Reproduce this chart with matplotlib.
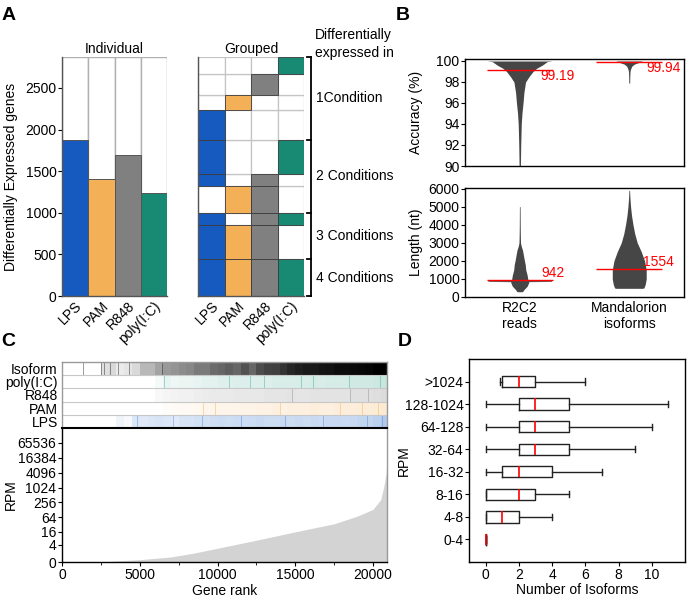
import numpy as np
import matplotlib
matplotlib.use('Agg')
import matplotlib.pyplot as plt
from matplotlib.colors import to_rgb
from matplotlib.ticker import MultipleLocator

plt.rcParams['font.family'] = ['Liberation Sans', 'DejaVu Sans']
plt.rcParams['font.size'] = 10
plt.rcParams['axes.linewidth'] = 1.0

# ---------------- Panel A data ----------------
conditions = ['LPS', 'PAM', 'R848', 'poly(I:C)']
cond_colors = ['#1659bf', '#f4b056', '#808080', '#188a73']
individual_counts = [1870, 1410, 1690, 1235]
# grouped rows (bottom -> top): membership in LPS, PAM, R848, poly(I:C)
group_members = [
    [1, 1, 1, 1],
    [1, 1, 1, 0],
    [1, 0, 1, 1],
    [0, 1, 1, 0],
    [1, 0, 1, 0],
    [1, 0, 0, 1],
    [1, 0, 0, 0],
    [0, 1, 0, 0],
    [0, 0, 1, 0],
    [0, 0, 0, 1],
]
group_counts = [440, 412, 140, 332, 140, 416, 352, 180, 260, 200]
group_names = {1: '1Condition', 2: '2 Conditions', 3: '3 Conditions', 4: '4 Conditions'}
a_yticks = [0, 500, 1000, 1500, 2000, 2500]

# ---------------- Panel B data ----------------
b_categories = ['R2C2\nreads', 'Mandalorion\nisoforms']
acc_medians = [99.19, 99.94]
len_medians = [942, 1554]
acc_med_labels = ['99.19', '99.94']
len_med_labels = ['942', '1554']
# swarm outline: value level and half-width (category units)
r2c2_acc_levels = [90, 92, 94, 95, 96, 97, 98, 98.5, 99.0, 99.3, 99.6, 99.94, 100]
r2c2_acc_width = [0.006, 0.009, 0.014, 0.020, 0.030, 0.038, 0.053, 0.084, 0.121, 0.153, 0.205, 0.251, 0.297]
mand_acc_levels = [97.9, 98.5, 99.0, 99.2, 99.5, 99.7, 99.87, 100]
mand_acc_width = [0.004, 0.005, 0.007, 0.011, 0.023, 0.046, 0.091, 0.121]
r2c2_len_levels = [290, 300, 400, 600, 800, 850, 860, 900, 910, 1000, 1200, 1500, 1800, 2000,
                   2300, 2600, 2800, 3000, 3500, 4000, 5000]
r2c2_len_width = [0.005, 0.027, 0.037, 0.068, 0.082, 0.082, 0.29, 0.29, 0.082, 0.073, 0.068, 0.055,
                  0.050, 0.043, 0.034, 0.025, 0.014, 0.007, 0.005, 0.004, 0.003]
mand_len_levels = [480, 500, 700, 1000, 1500, 2000, 2500, 3000, 3500, 4000, 4500, 5000, 5500, 5900]
mand_len_width = [0.119, 0.134, 0.146, 0.155, 0.155, 0.140, 0.110, 0.073, 0.050, 0.034, 0.021,
                  0.012, 0.006, 0.003]

# ---------------- Panel C data ----------------
gene_rank = [0, 2500, 5000, 7000, 8500, 10000, 12500, 15000, 17500, 19000, 20000, 20500, 20700,
             20850, 20900]
gene_rpm = [0, 0.015, 0.244, 0.6, 1.3, 2.6, 6.6, 15.6, 34, 71, 133, 337, 1180, 4100, 14500]
c_yticks = [0, 4, 16, 64, 256, 1024, 4096, 16384, 65536]
strip_names = ['LPS', 'PAM', 'R848', 'poly(I:C)', 'Isoform']
strip_colors = ['#3a78d0', '#f4a640', '#808080', '#2aa080', '#000000']
strip_bin = 500  # rank bin width of the density arrays below
lps_density = [0, 0, 0, 0, 0, 0, 0, 0.08, 0.04, 0.18, 0.16, 0.18, 0.2, 0.18, 0.16, 0.2, 0.2, 0.22,
               0.22, 0.24, 0.26, 0.24, 0.26, 0.25, 0.26, 0.28, 0.26, 0.26, 0.28, 0.26, 0.28, 0.26,
               0.28, 0.26, 0.28, 0.28, 0.27, 0.28, 0.30, 0.30, 0.34, 0.40]
pam_density = [0, 0, 0, 0, 0, 0, 0, 0, 0, 0, 0, 0, 0, 0.03, 0.04, 0.06, 0.06, 0.08, 0.09, 0.11, 0.11,
               0.11, 0.11, 0.13, 0.13, 0.14, 0.14, 0.16, 0.14, 0.16, 0.16, 0.16, 0.18, 0.16, 0.16,
               0.18, 0.18, 0.18, 0.2, 0.2, 0.22, 0.24]
r848_density = [0, 0, 0, 0, 0, 0, 0, 0, 0, 0, 0, 0, 0.05, 0.08, 0.09, 0.11, 0.11, 0.13, 0.15, 0.16,
                0.16, 0.16, 0.18, 0.18, 0.18, 0.18, 0.2, 0.2, 0.2, 0.22, 0.2, 0.2, 0.22, 0.22,
                0.22, 0.22, 0.22, 0.24, 0.24, 0.24, 0.26, 0.28]
poly_density = [0, 0, 0, 0, 0, 0, 0, 0, 0, 0, 0, 0, 0.05, 0.11, 0.08, 0.09, 0.09, 0.11, 0.13, 0.13,
                0.15, 0.15, 0.16, 0.16, 0.16, 0.16, 0.16, 0.18, 0.18, 0.18, 0.18, 0.18, 0.2, 0.18,
                0.2, 0.2, 0.2, 0.22, 0.22, 0.22, 0.24, 0.26]
iso_density = [0, 0, 0, 0, 0, 0.12, 0.15, 0.08, 0.10, 0.15, 0.28, 0.28, 0.36, 0.4, 0.42, 0.45, 0.47,
               0.52, 0.52, 0.58, 0.6, 0.63, 0.6, 0.68, 0.6, 0.7, 0.74, 0.75, 0.8, 0.85, 0.88,
               0.90, 0.90, 0.92, 0.93, 0.95, 0.95, 0.96, 0.97, 0.98, 1.0, 1.0]
lps_lines = [4800, 7140, 9000, 11500, 14340, 16780, 19600, 20550]
pam_lines = [9090, 9840, 14020, 17880, 19270, 20300]
r848_lines = [14770, 18520, 19650]
poly_lines = [6580, 10740, 12090, 13010, 15370, 16160, 18450, 20450]
iso_lines = [1370, 2490, 2700, 3100, 3620, 4330, 6410]

# ---------------- Panel D data ----------------
d_bins = ['0-4', '4-8', '8-16', '16-32', '32-64', '64-128', '128-1024', '>1024']
d_whislo = [0, 0, 0, 0, 0, 0, 0, 0.85]
d_q1 = [0, 0, 0, 1, 2, 2, 2, 1]
d_med = [0, 1, 2, 2, 3, 3, 3, 2]
d_q3 = [0, 2, 3, 4, 5, 5, 5, 3]
d_whishi = [0, 4, 5, 7, 9, 10, 11, 6]

# ---------------- Figure ----------------
W, H = 690, 600
fig = plt.figure(figsize=(W / 100, H / 100), dpi=100)


def add_ax(x0, y0, x1, y1):
    return fig.add_axes([x0 / W, 1 - y1 / H, (x1 - x0) / W, (y1 - y0) / H])


def letter(x, y, s):
    fig.text(x / W, 1 - y / H, s, fontsize=14, fontweight='bold', va='center', ha='left')


FS = 10

# ===== Panel A: Individual =====
a_top = 2872
axI = add_ax(62, 57, 167, 296)
xpos = np.arange(len(conditions))
axI.bar(xpos, [a_top] * 4, width=1, color='white', edgecolor='#b0b0b0', lw=1.0)
axI.bar(xpos, individual_counts, width=1, color=cond_colors, edgecolor='#555555', lw=0.7)
axI.set_xlim(-0.5, 3.5)
axI.set_ylim(0, a_top)
for s in ['top', 'right']:
    axI.spines[s].set_visible(False)
axI.spines['left'].set_color('#555555')
axI.spines['bottom'].set_color('#555555')
axI.set_yticks(a_yticks)
axI.tick_params(axis='y', length=3, pad=1, labelsize=FS)
axI.set_xticks(xpos)
axI.set_xticklabels(conditions, rotation=45, ha='right', rotation_mode='anchor', fontsize=FS)
axI.tick_params(axis='x', length=0, pad=2)
axI.set_title('Individual', fontsize=FS, pad=3)
axI.set_ylabel('Differentially Expressed genes', fontsize=FS)
axI.yaxis.set_label_coords(-0.42, 0.5)

# ===== Panel A: Grouped =====
axG = add_ax(198, 57, 304, 296)
bottom = 0
for members, n in zip(group_members, group_counts):
    for j in range(4):
        if not members[j]:
            axG.bar(j, n, bottom=bottom, width=1, color='white', edgecolor='#c4c4c4', lw=0.9)
    bottom += n
bottom = 0
for members, n in zip(group_members, group_counts):
    for j in range(4):
        if members[j]:
            axG.bar(j, n, bottom=bottom, width=1, color=cond_colors[j], edgecolor='#3a3a3a', lw=0.6)
    bottom += n
axG.set_xlim(-0.5, 3.5)
axG.set_ylim(0, a_top)
axG.set_yticks([])
for s in ['top', 'right']:
    axG.spines[s].set_visible(False)
axG.spines['left'].set_color('#555555')
axG.spines['bottom'].set_color('#555555')
axG.set_xticks(xpos)
axG.set_xticklabels(conditions, rotation=45, ha='right', rotation_mode='anchor', fontsize=FS)
axG.tick_params(axis='x', length=0, pad=2)
axG.set_title('Grouped', fontsize=FS, pad=3)

# bracket by number of conditions
bounds = {}
cum = 0
for members, n in zip(group_members, group_counts):
    k = sum(members)
    lo, hi = bounds.get(k, (cum, cum))
    bounds[k] = (min(lo, cum), cum + n)
    cum += n
tr = axG.get_yaxis_transform()
axG.plot([1.064, 1.064], [0, cum], color='black', lw=1.3, transform=tr, clip_on=False)
edges = sorted(set([b for v in bounds.values() for b in v]))
for e in edges:
    axG.plot([1.026, 1.064], [e, e], color='black', lw=1.3, transform=tr, clip_on=False)
for k, (lo, hi) in bounds.items():
    axG.text(1.11, (lo + hi) / 2, group_names[k], transform=tr, va='center', ha='left', fontsize=FS)
fig.text(315 / W, 1 - 35 / H, 'Differentially', fontsize=FS, va='center', ha='left')
fig.text(315 / W, 1 - 53 / H, 'expressed in', fontsize=FS, va='center', ha='left')

# ===== Panel B =====
swarm_color = '#464646'
axB1 = add_ax(465, 59, 684, 166)
axB2 = add_ax(465, 188, 684, 297)
for c, (lv, wd) in enumerate([(r2c2_acc_levels, r2c2_acc_width), (mand_acc_levels, mand_acc_width)]):
    axB1.fill_betweenx(lv, c - np.array(wd), c + np.array(wd), color=swarm_color, lw=0)
    axB1.hlines(acc_medians[c], c - 0.3, c + 0.3, color='red', lw=1.0, zorder=3)
for c, (lv, wd) in enumerate([(r2c2_len_levels, r2c2_len_width), (mand_len_levels, mand_len_width)]):
    axB2.fill_betweenx(lv, c - np.array(wd), c + np.array(wd), color=swarm_color, lw=0)
    axB2.hlines(len_medians[c], c - 0.3, c + 0.3, color='red', lw=1.0, zorder=3)
axB1.text(0.19, 98.55, acc_med_labels[0], color='red', fontsize=FS, va='center', ha='left')
axB1.text(1.155, 99.3, acc_med_labels[1], color='red', fontsize=FS, va='center', ha='left')
axB2.text(0.2, 1335, len_med_labels[0], color='red', fontsize=FS, va='center', ha='left')
axB2.text(1.125, 1940, len_med_labels[1], color='red', fontsize=FS, va='center', ha='left')
axB1.set_xlim(-0.5, 1.5)
axB1.set_ylim(90, 100.19)
axB1.set_yticks([90, 92, 94, 96, 98, 100])
axB1.set_xticks([])
axB1.set_ylabel('Accuracy (%)', fontsize=FS)
axB2.set_xlim(-0.5, 1.5)
axB2.set_ylim(0, 6030)
axB2.set_yticks([0, 1000, 2000, 3000, 4000, 5000, 6000])
axB2.set_xticks([0, 1])
axB2.set_xticklabels(b_categories, fontsize=FS)
axB2.set_ylabel('Length (nt)', fontsize=FS)
for a in (axB1, axB2):
    a.tick_params(axis='y', length=3, pad=1, labelsize=FS)
    a.tick_params(axis='x', length=0, pad=3)
    a.yaxis.set_label_coords(-0.19, 0.5)

# ===== Panel C: strips =====
axS = add_ax(62, 362, 387, 428)
densities = [lps_density, pam_density, r848_density, poly_density, iso_density]
lines = [lps_lines, pam_lines, r848_lines, poly_lines, iso_lines]
for row, (dens, col, lns) in enumerate(zip(densities, strip_colors, lines)):
    rgb = to_rgb(col)
    lefts = np.arange(len(dens)) * strip_bin
    cols = [(rgb[0], rgb[1], rgb[2], d) for d in dens]
    axS.bar(lefts, 1, width=strip_bin, bottom=row, align='edge', color=cols, lw=0)
    axS.vlines(lns, row, row + 1, color=col, lw=0.6, alpha=0.45)
axS.hlines([1, 2, 3, 4], 0, 20900, color='#c8c8c8', lw=0.8)
axS.set_xlim(0, 20900)
axS.set_ylim(0, 5)
axS.set_xticks([])
axS.set_yticks(np.arange(5) + 0.5)
axS.set_yticklabels(strip_names, fontsize=FS)
axS.tick_params(axis='y', length=0, pad=3)
for s in ['top', 'right', 'left']:
    axS.spines[s].set_color('#999999')
axS.spines['bottom'].set_visible(False)

# ===== Panel C: main =====
def fwd(y):
    return np.log2(np.asarray(y, dtype=float) + 1)


def inv(y):
    return 2.0 ** np.asarray(y, dtype=float) - 1


axC = add_ax(62, 428, 387, 562)
axC.set_yscale('function', functions=(fwd, inv))
axC.fill_between(gene_rank, gene_rpm, color='#d3d3d3', lw=0)
axC.set_xlim(0, 20900)
axC.set_ylim(0, 2 ** 18 - 1)
axC.set_yticks(c_yticks)
axC.set_yticklabels([str(v) for v in c_yticks])
axC.yaxis.set_minor_locator(matplotlib.ticker.NullLocator())
axC.xaxis.set_major_locator(MultipleLocator(5000))
axC.xaxis.set_minor_locator(MultipleLocator(2500))
axC.tick_params(axis='both', which='major', length=3, pad=1, labelsize=FS)
axC.tick_params(axis='x', which='minor', length=2)
axC.spines['top'].set_color('black')
axC.spines['top'].set_linewidth(1.5)
axC.spines['right'].set_color('#999999')
axC.set_ylabel('RPM', fontsize=FS)
axC.yaxis.set_label_coords(-0.135, 0.5)
axC.set_xlabel('Gene rank', fontsize=FS, labelpad=2)

# ===== Panel D =====
axD = add_ax(469, 359, 685, 562)
stats = []
for lo, q1, md, q3, hi in zip(d_whislo, d_q1, d_med, d_q3, d_whishi):
    stats.append(dict(whislo=lo, q1=q1, med=md, q3=q3, whishi=hi, fliers=[]))
bx_kw = dict(positions=np.arange(len(d_bins)), widths=0.5, showfliers=False,
             boxprops=dict(color='#222222', lw=1.0),
             whiskerprops=dict(color='#222222', lw=1.0),
             capprops=dict(color='#222222', lw=1.0),
             medianprops=dict(color='red', lw=1.2, zorder=5))
try:
    axD.bxp(stats, orientation='horizontal', capwidths=0.28, **bx_kw)
except TypeError:
    axD.bxp(stats, vert=False, **bx_kw)
axD.set_xlim(-1, 12)
axD.set_ylim(-1, 8)
axD.set_yticks(np.arange(len(d_bins)))
axD.set_yticklabels(d_bins, fontsize=FS)
axD.set_xticks([0, 2, 4, 6, 8, 10])
axD.set_xticklabels(['0', '2', '4', '6', '8', '10'])
axD.tick_params(axis='both', length=3, pad=1, labelsize=FS)
axD.set_ylabel('RPM', fontsize=FS)
axD.yaxis.set_label_coords(-0.27, 0.5)
axD.set_xlabel('Number of Isoforms', fontsize=FS, labelpad=1)

letter(2, 15, 'A')
letter(396, 15, 'B')
letter(1, 341, 'C')
letter(398, 341, 'D')

fig.savefig('out.png', dpi=100)
